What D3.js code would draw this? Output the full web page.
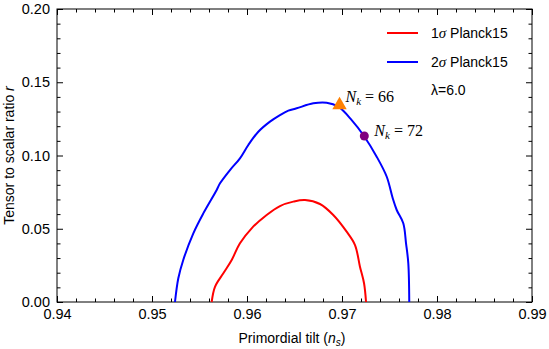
<!DOCTYPE html>
<html><head><meta charset="utf-8">
<script src="https://cdn.jsdelivr.net/npm/d3@7"></script>
<style>body{margin:0;background:#fff}svg{display:block;font-family:"Liberation Sans",Arial,sans-serif}</style>
</head><body><svg id="c" width="549" height="349"></svg>
<script>
const xMajor = [0.94, 0.95, 0.96, 0.97, 0.98, 0.99];
const yMajor = [0.00, 0.05, 0.10, 0.15, 0.20];
const xLabel = "Primordial tilt";
const yLabel = "Tensor to scalar ratio";
const blueNs = [0.95242,0.95277,0.95329,0.95435,0.95540,0.95681,0.95716,0.95821,0.95926,0.96014,0.96119,0.96242,0.96347,0.96435,0.96523,0.96698,0.96839,0.96961,0.97102,0.97224,0.97365,0.97471,0.97534,0.97576,0.97645,0.97674,0.97698,0.97708];
const blueR  = [0,0.0162,0.0287,0.0469,0.0605,0.0765,0.0810,0.0901,0.0981,0.1072,0.1162,0.1231,0.1276,0.1306,0.1322,0.1356,0.1360,0.1333,0.1242,0.1140,0.0992,0.0855,0.0708,0.0628,0.0537,0.0401,0.0264,0];
const redNs = [0.95628,0.95663,0.95751,0.95839,0.95926,0.96049,0.96207,0.96347,0.96487,0.96611,0.96768,0.96908,0.97049,0.97137,0.97189,0.97232,0.97253];
const redR  = [0,0.0104,0.0196,0.0287,0.0401,0.0503,0.0594,0.0655,0.0685,0.0696,0.0669,0.0594,0.0480,0.0389,0.0241,0.0128,0];
const pointNames = ["66", "72"];
const pointNs = [0.96974, 0.97235];
const pointR = [0.1338, 0.1133];
const legendNames = ["1", "2"];

const svg = d3.select("#c");
const L = 57, R = 532, T = 9, B = 302;
const x = d3.scaleLinear().domain([0.94, 0.99]).range([L, R]);
const y = d3.scaleLinear().domain([0, 0.20]).range([B, T]);

const xMinor = d3.range(0.94, 0.9901, 0.002).filter(v => Math.abs(Math.round(v*100) - v*100) > 1e-6);
const yMinor = d3.range(0, 0.2001, 0.01).filter(v => Math.abs(Math.round(v*20) - v*20) > 1e-6);

function addAxis(axisFn, scale, ticks, size, labels, transform) {
  const a = axisFn(scale).tickValues(ticks).tickSizeInner(-size).tickSizeOuter(0).tickPadding(7)
    .tickFormat(labels ? d3.format(".2f") : () => "");
  const g = svg.append("g").attr("transform", transform).call(a);
  g.attr("font-family", null).attr("font-size", null);
  g.select(".domain").remove();
  g.selectAll("line").attr("stroke", "#000");
  g.selectAll("text").style("font-family", "'Liberation Sans',Arial,sans-serif").style("font-size", "14.5px").attr("fill", "#000");
  return g;
}
addAxis(d3.axisBottom, x, xMajor, 6, true, `translate(0,${B})`);
addAxis(d3.axisBottom, x, xMinor, 3.5, false, `translate(0,${B})`);
addAxis(d3.axisTop, x, xMajor, 6, false, `translate(0,${T})`);
addAxis(d3.axisTop, x, xMinor, 3.5, false, `translate(0,${T})`);
addAxis(d3.axisLeft, y, yMajor, 6, true, `translate(${L},0)`);
addAxis(d3.axisLeft, y, yMinor, 3.5, false, `translate(${L},0)`);
addAxis(d3.axisRight, y, yMajor, 6, false, `translate(${R},0)`);
addAxis(d3.axisRight, y, yMinor, 3.5, false, `translate(${R},0)`);

svg.append("rect").attr("x", L).attr("y", T).attr("width", R - L).attr("height", B - T)
  .attr("fill", "none").attr("stroke", "#000").attr("stroke-width", 1);

const line = d3.line().x(d => x(d[0])).y(d => y(d[1])).curve(d3.curveCatmullRom);
svg.append("path").datum(d3.zip(redNs, redR)).attr("d", line)
  .attr("fill", "none").attr("stroke", "#ff0000").attr("stroke-width", 2);
svg.append("path").datum(d3.zip(blueNs, blueR)).attr("d", line)
  .attr("fill", "none").attr("stroke", "#0000ff").attr("stroke-width", 2);

// markers
svg.append("path").attr("d", d3.symbol(d3.symbolTriangle, 90)())
  .attr("transform", `translate(${x(pointNs[0])},${y(pointR[0]) - 1})`).attr("fill", "#ff8000");
svg.append("circle").attr("cx", x(pointNs[1])).attr("cy", y(pointR[1])).attr("r", 4.5).attr("fill", "#800080");

const serif = "'Liberation Serif','Times New Roman',serif";
const labOff = [[6, -4], [10, 0]];
pointNames.forEach((n, i) => {
  const t = svg.append("text").attr("x", x(pointNs[i]) + labOff[i][0]).attr("y", y(pointR[i]) + labOff[i][1])
    .style("font-family", serif).style("font-size", "16px").attr("fill", "#000");
  t.append("tspan").style("font-style", "italic").text("N");
  t.append("tspan").style("font-style", "italic").style("font-size", "11px").attr("dy", 3).text("k");
  t.append("tspan").attr("dy", -3).text(" = " + n);
});

// legend
const legColors = ["#ff0000", "#0000ff"];
legendNames.forEach((n, i) => {
  const ly = 33 + i * 29;
  svg.append("line").attr("x1", 387).attr("x2", 418).attr("y1", ly).attr("y2", ly)
    .attr("stroke", legColors[i]).attr("stroke-width", 2);
  const t = svg.append("text").attr("x", 431).attr("y", ly + 5).style("font-size", "14px").attr("fill", "#000");
  t.append("tspan").text(n);
  t.append("tspan").style("font-family", serif).style("font-style", "italic").style("font-size", "15px").text("σ");
  t.append("tspan").text(" Planck15");
});
svg.append("text").attr("x", 431).attr("y", 95).style("font-size", "14px").attr("fill", "#000").text("λ=6.0");

// axis titles
const xt = svg.append("text").attr("x", 292).attr("y", 343).attr("text-anchor", "middle").style("font-size", "14px").attr("fill", "#000");
xt.append("tspan").text(xLabel + " (");
xt.append("tspan").style("font-style", "italic").text("n");
xt.append("tspan").style("font-style", "italic").style("font-size", "10px").attr("dy", 3).text("s");
xt.append("tspan").attr("dy", -3).text(")");
const yt = svg.append("text").attr("transform", `translate(14,${(T + B) / 2}) rotate(-90)`)
  .attr("text-anchor", "middle").style("font-size", "14px").attr("fill", "#000");
yt.append("tspan").text(yLabel + " ");
yt.append("tspan").style("font-style", "italic").text("r");
</script></body></html>
